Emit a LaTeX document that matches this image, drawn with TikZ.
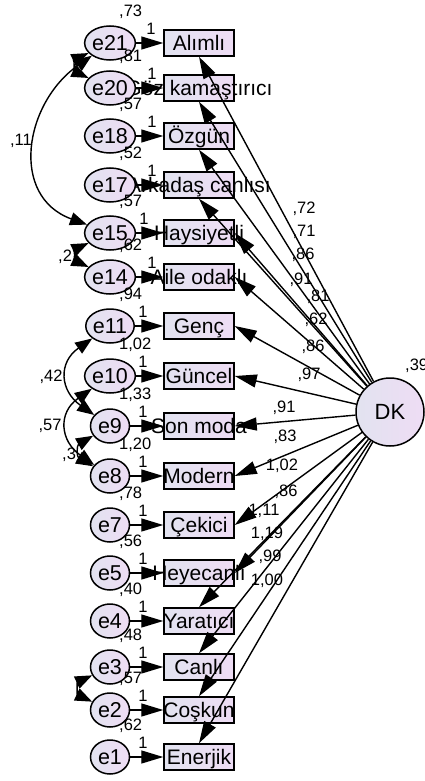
\documentclass[tikz,border=0pt]{standalone}
\usepackage{fontspec}
\setmainfont{Liberation Sans}
\usetikzlibrary{arrows.meta,shapes.geometric}
\definecolor{lavL}{RGB}{226,227,240}
\definecolor{lavR}{RGB}{238,220,244}
\begin{document}
\begin{tikzpicture}[
  x=1pt, y=1pt,
  fill shade/.style={left color=lavL, right color=lavR},
  err/.style={ellipse, draw, line width=1.5pt, fill shade, minimum width=39pt,
    minimum height=34pt, inner sep=0pt, font=\fontsize{21.5}{25}\selectfont,
    text height=15pt, text depth=0pt},
  obs/.style={rectangle, draw, line width=1.5pt, fill shade, minimum width=70pt,
    minimum height=26pt, inner sep=0pt, font=\fontsize{21}{25}\selectfont,
    text height=15pt, text depth=0pt},
  lat/.style={circle, draw, line width=1.5pt, fill shade, minimum size=68pt,
    inner sep=0pt, font=\fontsize{22}{26}\selectfont},
  num/.style={inner sep=0pt, font=\fontsize{16.5}{19}\selectfont},
  path/.style={-{Triangle[length=22pt,width=13pt]}, line width=1.4pt},
  cov/.style={{Triangle[length=17pt,width=13pt]}-{Triangle[length=17pt,width=13pt]}, line width=1.4pt},
]
\useasboundingbox (0,0) rectangle (424,-781);

% indicators, their error terms, fixed loadings and error variances
\foreach \n/\y/\t/\v/\ox in {
  21/43/Alımlı/{,73}/151,
  20/88/Göz kamaştırıcı/{,81}/152,
  18/136/Özgün/{,57}/152,
  17/185/Arkadaş canlısı/{,52}/152,
  15/233/Haysiyetli/{,57}/144,
  14/277/Aile odaklı/{,62}/152,
  11/326/Genç/{,94}/143,
  10/376/Güncel/{1,02}/143,
  9/426/Son moda/{1,33}/143,
  8/476/Modern/{1,20}/143,
  7/525/Çekici/{,78}/143,
  5/573/Heyecanlı/{,56}/143,
  4/621/Yaratıcı/{,40}/143,
  3/667/Canlı/{,48}/143,
  2/710/Coşkun/{,57}/143,
  1/757/Enerjik/{,62}/143}{
  \node[obs] (b\n) at (199,-\y) {\makebox[0pt]{\t}};
  \node[err] (e\n) at (110,-\y) {e\n};
  \node[num, anchor=west] (v\n) at (119,{-\y+31}) {\v};
  \node[num] (o\n) at (\ox,{-\y+14}) {1};
  \draw[path] (e\n) -- (b\n);
}

% latent factor
\node[lat] (DK) at (390,-412) {DK};
\node[num, anchor=west] (vDK) at (405,-366) {,39};

% factor loadings
\foreach \b/\a in {21/south, 20/south, 18/south, 17/south,
  15/east, 14/east, 11/east, 10/east, 9/east, 8/east, 7/east, 5/east,
  4/north, 3/north, 2/north, 1/north}
  \draw[path] (DK) -- (b\b.\a);

\foreach \k/\x/\y/\t in {
  a/304/209/{,72}, b/304/232/{,71}, c/303/255/{,86}, d/301/280/{,91},
  f/318/297/{,81}, g/316/320/{,62}, h/313/347/{,86}, i/309/375/{,97},
  j/284/408/{,91}, k/285/437/{,83}, l/282/466/{1,02}, m/286/492/{,86},
  n/264/511/{1,11}, p/267/534/{1,19}, q/270/557/{,99}, r/267/581/{1,00}}
  \node[num] (w\k) at (\x,-\y) {\t};

% error covariances
\node[num] (c2115) at (21,-141) {,11};
\node[num] (c1109) at (51,-377) {,42};
\node[num] (c1008) at (50,-426) {,57};
\node[num, anchor=west] (c1514) at (58,-257) {,2};
\node[num, anchor=west] (c0908) at (62,-455) {,3};

\draw[cov] (e21) to[out=205, in=155, looseness=1.6] (e20);
\draw[cov] (e21) to[out=215, in=160, looseness=1.25] (e15);
\draw[cov] (e15) to[out=205, in=155, looseness=1.6] (e14);
\draw[cov] (e11) to[out=215, in=145, looseness=1.4] (e9);
\draw[cov] (e10) to[out=215, in=145, looseness=1.4] (e8);
\draw[cov] (e9) to[out=210, in=150, looseness=1.6] (e8);
\draw[cov] (e3) to[out=205, in=155, looseness=1.6] (e2);
\end{tikzpicture}
\end{document}
